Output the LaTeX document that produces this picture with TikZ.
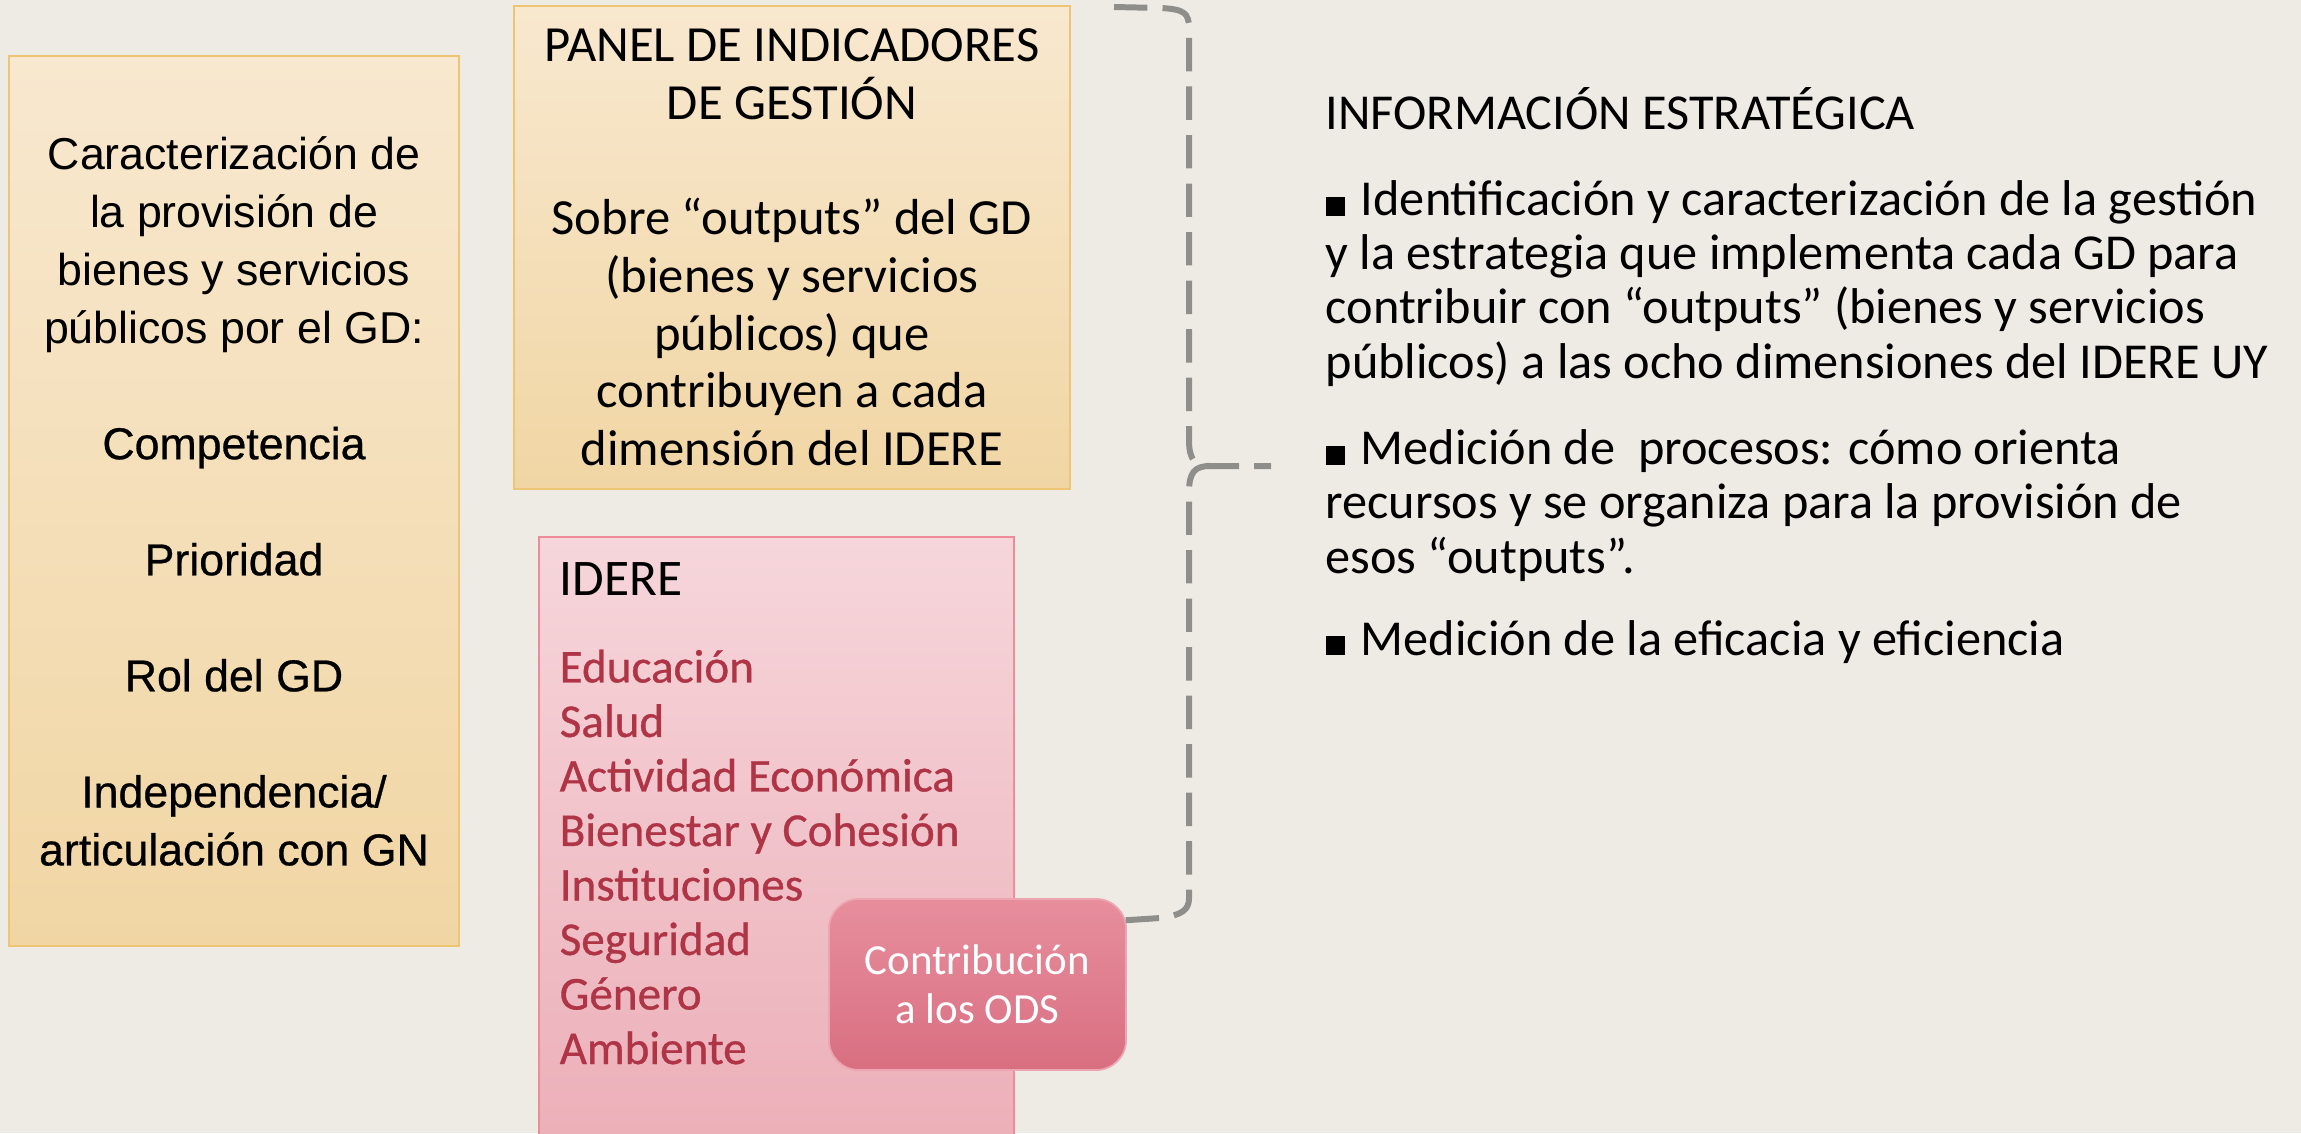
\documentclass[tikz,border=0pt]{standalone}
\usepackage{fontspec}
\setmainfont{Carlito}
\newfontfamily\carlitomedio[FakeBold=0.7]{Carlito}
\newfontfamily\arialfont{Liberation Sans}
\newfontfamily\arialmedio[FakeBold=0.6]{Liberation Sans}
\usepackage{tikz}

\definecolor{fondo}{HTML}{EEEBE4}
\definecolor{cremaarriba}{HTML}{F8E8CF}
\definecolor{cremaabajo}{HTML}{F1D6A4}
\definecolor{bordedorado}{HTML}{EDC574}
\definecolor{rosaarriba}{HTML}{F6D6DB}
\definecolor{rosaabajo}{HTML}{ECAFB8}
\definecolor{bordero}{HTML}{EE8C9C}
\definecolor{odsarriba}{HTML}{E78E9D}
\definecolor{odsabajo}{HTML}{D86F81}
\definecolor{rojodim}{HTML}{AE3446}
\definecolor{grisllave}{HTML}{8E8E8A}

\newcommand{\cuadrito}{\rule{5.4pt}{5.4pt}\hspace{4.6pt}}

\begin{document}
\begin{tikzpicture}[x=0.01cm, y=-0.01cm,
	dorada/.style={draw=bordedorado, line width=0.6pt, top color=cremaarriba, bottom color=cremaabajo, inner sep=0pt},
	rosada/.style={draw=bordero, line width=0.6pt, top color=rosaarriba, bottom color=rosaabajo, inner sep=0pt},
	ods/.style={draw=odsarriba!80!white, line width=0.5pt, top color=odsarriba, bottom color=odsabajo, rounded corners=0.3cm, inner sep=0pt, text=white, align=center, font=\fontsize{12.2}{14}\selectfont},
	llave/.style={draw=grisllave, line width=1.7pt, dash pattern=on 9.5pt off 4.3pt},
	texto/.style={inner sep=0pt, align=left},
	derecha/.style={texto, anchor=base west, font=\fontsize{14.3}{15.4}\selectfont}]
				\clip (0,0) rectangle (2301,1133);
				\fill[fondo] (0,0) rectangle (2301,1133);
				
				% cajas de la izquierda
				\path (234,501) node[dorada, minimum width=4.5cm, minimum height=8.9cm, align=center, font=\arialfont\fontsize{12.7}{16.5}\selectfont] (caract){Caracterización de\\la provisión de\\bienes y servicios\\públicos por el GD:\\[16.5pt]{\arialmedio Competencia}\\[16.5pt]{\arialmedio Prioridad}\\[16.5pt]{\arialmedio Rol del GD}\\[16.5pt]{\arialmedio Independencia/}\\{\arialmedio articulación con GN}}
				(792,247.5) node[dorada, minimum width=5.56cm, minimum height=4.83cm, align=center, font=\fontsize{14.4}{16.4}\selectfont] (panel){PANEL DE INDICADORES\\DE GESTIÓN\\[16.4pt]Sobre “outputs” del GD\\(bienes y servicios\\públicos) que\\contribuyen a cada\\dimensión del IDERE}
				(776.5,841) node[rosada, minimum width=4.75cm, minimum height=6.08cm] (idere){};
				
				\path (559,595) node[texto, anchor=base west, font=\fontsize{14.6}{16}\selectfont] (ideretit){IDERE}
				(559,1064) node[texto, anchor=base west, text=rojodim, font=\carlitomedio\fontsize{13.4}{15.5}\selectfont] (dims){Educación\\Salud\\Actividad Económica\\Bienestar y Cohesión\\Instituciones\\Seguridad\\Género\\Ambiente}
				(977.5,984.5) node[ods, minimum width=2.97cm, minimum height=1.71cm] (contrib){Contribución\\a los ODS};
				
				% texto de la derecha
				\path (1325,129) node[derecha] (infotit){INFORMACIÓN ESTRATÉGICA}
				(1325,378) node[derecha] (info1){\cuadrito Identificación y caracterización de la gestión\\y la estrategia que implementa cada GD para\\contribuir con “outputs” (bienes y servicios\\públicos) a las ocho dimensiones del IDERE UY}
				(1325,573) node[derecha] (info2){\cuadrito Medición de\ \ procesos: cómo orienta\\recursos y se organiza para la provisión de\\esos “outputs”.}
				(1325,655) node[derecha] (info3){\cuadrito Medición de la eficacia y eficiencia};
				
				% llave punteada
				\coordinate (bktop) at (1114,7);
				\coordinate (bkmid) at (1210,466);
				\coordinate (bktip) at (1271,466);
				\coordinate (bkbot) at (1114,921);
				\draw[llave] (bktop) -- (1160,8) .. controls (1184,9) and (1189,13) .. (1189,28) -- (1189,440) .. controls (1189,460) and (1195,466) .. (bkmid) -- (bktip);
				\draw[llave] (bkmid) .. controls (1195,466) and (1189,472) .. (1189,492) -- (1189,898) .. controls (1189,910) and (1182,915) .. (1160,918) -- (bkbot);
			\end{tikzpicture}
\end{document}
